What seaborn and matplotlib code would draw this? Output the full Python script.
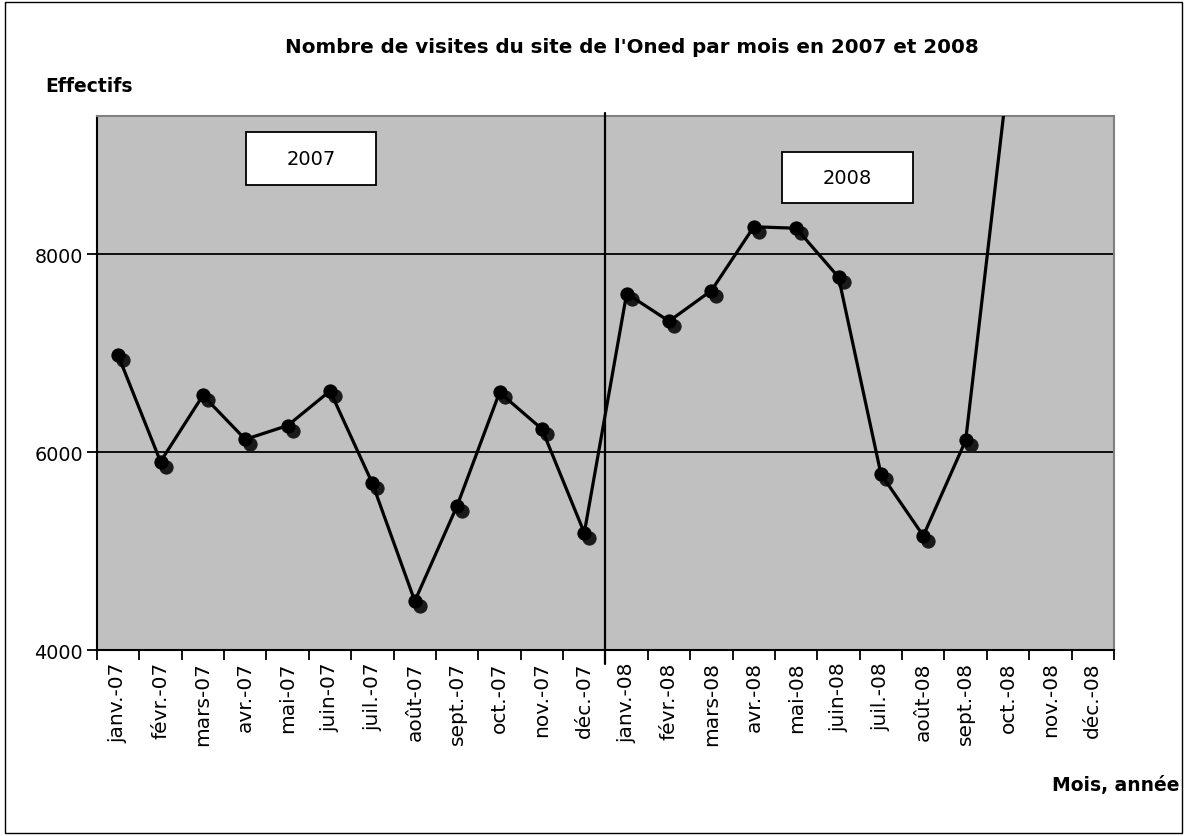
import numpy as np
import pandas as pd
import seaborn as sns
import matplotlib.pyplot as plt
import matplotlib.transforms as mtransforms
from matplotlib.patches import Rectangle

# Monthly visits (nov./déc. 2008 not yet available)
mois = ["janv.-07", "févr.-07", "mars-07", "avr.-07", "mai-07", "juin-07",
        "juil.-07", "août-07", "sept.-07", "oct.-07", "nov.-07", "déc.-07",
        "janv.-08", "févr.-08", "mars-08", "avr.-08", "mai-08", "juin-08",
        "juil.-08", "août-08", "sept.-08", "oct.-08", "nov.-08", "déc.-08"]
visites = [6980, 5905, 6575, 6130, 6270, 6620, 5685, 4495, 5460, 6605, 6235, 5185,
           7605, 7325, 7635, 8280, 8265, 7770, 5780, 5155, 6120, 9800, np.nan, np.nan]
y_ticks = [4000, 6000, 8000]

df = pd.DataFrame({"pos": np.arange(len(mois)), "visites": visites})

sns.set_style("white")
plt.rcParams["font.family"] = ["DejaVu Sans"]
plt.rcParams["text.color"] = "black"
plt.rcParams["xtick.color"] = "black"
plt.rcParams["ytick.color"] = "black"

fig = plt.figure(figsize=(11.87, 8.37), dpi=100)
ax = fig.add_axes([0.0817, 0.2222, 0.8568, 0.638])
ax.set_facecolor("#c0c0c0")

# shadow markers, shifted a few pixels right/down
sns.lineplot(data=df, x="pos", y="visites", ax=ax, color="#1a1a1a", linestyle="",
             marker="o", markersize=9.5, markeredgecolor="#1a1a1a", zorder=3)
shift = mtransforms.ScaledTranslation(5 / 100, -5 / 100, fig.dpi_scale_trans)
ax.lines[-1].set_transform(ax.transData + shift)

sns.lineplot(data=df, x="pos", y="visites", ax=ax, color="black", linewidth=2.3,
             marker="o", markersize=9.5, markeredgecolor="black", zorder=4)

ax.set_xlim(-0.5, len(mois) - 0.5)
ax.set_ylim(4000, 9400)

# separator between the two years
ax.axvline(11.5, ymin=-0.027, ymax=1.005, color="black", linewidth=1.6, clip_on=False, zorder=5)

ax.set_yticks(y_ticks)
ax.yaxis.grid(True, color="black", linewidth=1.3)
ax.set_axisbelow(True)
ax.tick_params(axis="y", direction="out", length=7, width=1.3, labelsize=13.8, pad=3,
               left=True, labelcolor="black")

ax.set_xticks(np.arange(len(mois) + 1) - 0.5)
ax.set_xticklabels([])
ax.set_xticks(np.arange(len(mois)), minor=True)
ax.set_xticklabels(mois, minor=True, rotation=90, fontsize=14.5, color="black")
ax.tick_params(axis="x", which="major", direction="out", length=7, width=1.3, bottom=True)
ax.tick_params(axis="x", which="minor", length=0, pad=8)

ax.set_xlabel("")
ax.set_ylabel("")

for side in ["left", "bottom"]:
    ax.spines[side].set_color("black")
    ax.spines[side].set_linewidth(1.5)
for side in ["top", "right"]:
    ax.spines[side].set_color("#808080")
    ax.spines[side].set_linewidth(1.5)

# year boxes
for x0, y0, w, h, lab in [(0.2072, 0.7778, 0.1095, 0.0633, "2007"),
                          (0.6588, 0.7563, 0.1104, 0.0609, "2008")]:
    fig.patches.append(Rectangle((x0, y0), w, h, transform=fig.transFigure,
                                 facecolor="white", edgecolor="black", linewidth=1.3, zorder=6))
    fig.text(x0 + w / 2, y0 + h / 2, lab, ha="center", va="center", fontsize=14, zorder=7)

fig.text(0.532, 0.9438, "Nombre de visites du site de l'Oned par mois en 2007 et 2008",
         ha="center", va="center", fontsize=14.3, fontweight="bold")
fig.text(0.038, 0.897, "Effectifs", ha="left", va="center", fontsize=13.5, fontweight="bold")
fig.text(0.994, 0.062, "Mois, année", ha="right", va="center", fontsize=13.5, fontweight="bold")

# outer frame of the chart
fig.patches.append(Rectangle((0.004, 0.003), 0.992, 0.993, transform=fig.transFigure,
                             fill=False, edgecolor="black", linewidth=1))

fig.savefig("out.png", dpi=100)
